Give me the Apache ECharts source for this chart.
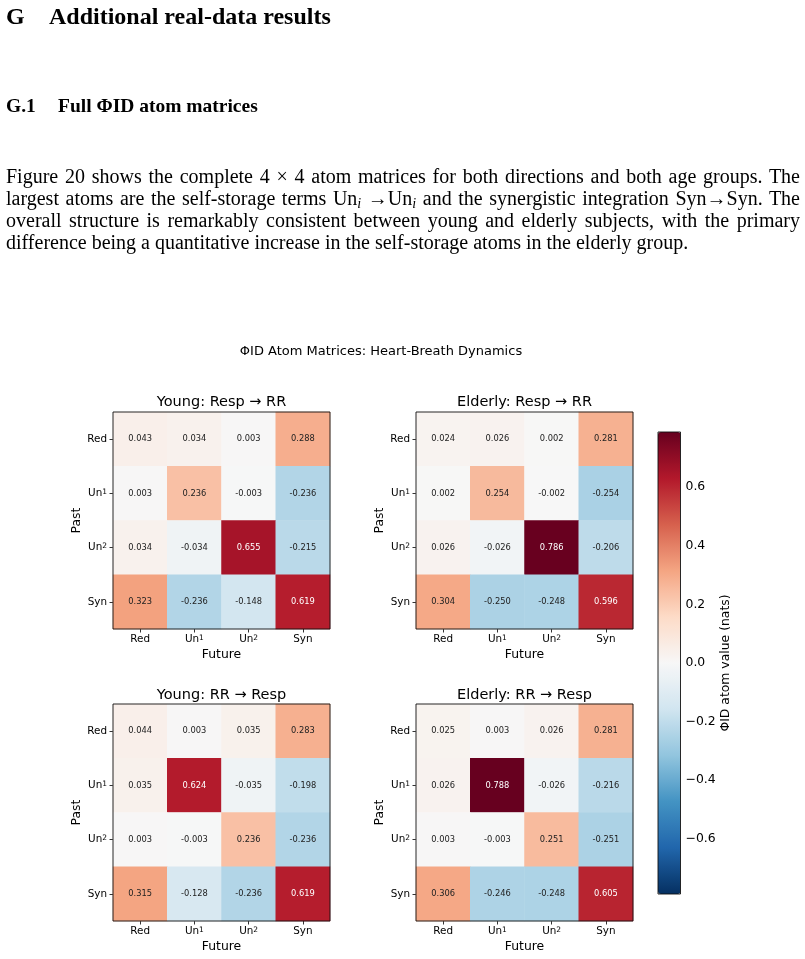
<!DOCTYPE html>
<html>
<head>
<meta charset="utf-8">
<script src="https://cdn.jsdelivr.net/npm/echarts@6.0.0/dist/echarts.min.js"></script>
<style>
  html, body { margin:0; padding:0; background:#fff; }
  #wrap { position:relative; width:805px; height:959px; overflow:hidden; }
  #chart { position:absolute; left:0; top:0; width:805px; height:959px; }
  .tx { position:absolute; font-family:"Liberation Serif","Times New Roman",serif; color:#000; white-space:nowrap; }
  .h1 { font-size:24px; line-height:24px; font-weight:bold; }
  .h2 { font-size:19.5px; line-height:20px; font-weight:bold; }
  .p { font-size:20px; line-height:22px; left:6px; width:794px; white-space:normal; text-align:justify; text-align-last:justify; }
  .p.last { text-align-last:left; }
  sub { font-size:14px; line-height:0; vertical-align:-3px; font-style:italic; }
</style>
</head>
<body>
<div id="wrap">
  <div id="chart"></div>
  <div class="tx h1" style="left:6px;top:4px;">G</div>
  <div class="tx h1" style="left:49px;top:4px;">Additional real-data results</div>
  <div class="tx h2" style="left:6px;top:96px;">G.1</div>
  <div class="tx h2" style="left:58px;top:96px;">Full ΦID atom matrices</div>
  <div class="tx p" style="top:165px;">Figure 20 shows the complete 4 × 4 atom matrices for both directions and both age groups. The</div>
  <div class="tx p" style="top:187px;">largest atoms are the self-storage terms Un<sub>i</sub> →Un<sub>i</sub> and the synergistic integration Syn→Syn. The</div>
  <div class="tx p" style="top:209px;">overall structure is remarkably consistent between young and elderly subjects, with the primary</div>
  <div class="tx p last" style="top:231px;">difference being a quantitative increase in the self-storage atoms in the elderly group.</div>
</div>
<script>
// ---- data ----
const atoms = ['Red', 'Un\u00B9', 'Un\u00B2', 'Syn'];
const colorbarTicks = [-0.6, -0.4, -0.2, 0.0, 0.2, 0.4, 0.6];
const vLimit = 0.788;

const youngRespRR = [
  [0.043, 0.034, 0.003, 0.288],
  [0.003, 0.236, -0.003, -0.236],
  [0.034, -0.034, 0.655, -0.215],
  [0.323, -0.236, -0.148, 0.619]
];
const elderlyRespRR = [
  [0.024, 0.026, 0.002, 0.281],
  [0.002, 0.254, -0.002, -0.254],
  [0.026, -0.026, 0.786, -0.206],
  [0.304, -0.250, -0.248, 0.596]
];
const youngRRResp = [
  [0.044, 0.003, 0.035, 0.283],
  [0.035, 0.624, -0.035, -0.198],
  [0.003, -0.003, 0.236, -0.236],
  [0.315, -0.128, -0.236, 0.619]
];
const elderlyRRResp = [
  [0.025, 0.003, 0.026, 0.281],
  [0.026, 0.788, -0.026, -0.216],
  [0.003, -0.003, 0.251, -0.251],
  [0.306, -0.246, -0.248, 0.605]
];
const panelTitles = ['Young: Resp \u2192 RR', 'Elderly: Resp \u2192 RR', 'Young: RR \u2192 Resp', 'Elderly: RR \u2192 Resp'];
const mainTitle = '\u03A6ID Atom Matrices: Heart-Breath Dynamics';
const colorbarLabel = '\u03A6ID atom value (nats)';

// RdBu_r colormap (matplotlib)
const rdbu_r = ['#053061','#2166ac','#4393c3','#92c5de','#d1e5f0','#f7f7f7','#fddbc7','#f4a582','#d6604d','#b2182b','#67001f'];

const FONT = 'DejaVu Sans';
const matrices = [youngRespRR, elderlyRespRR, youngRRResp, elderlyRRResp];
const gridPos = [
  {left:113, top:412, titleTop:395},
  {left:416, top:412, titleTop:395},
  {left:113, top:704, titleTop:688},
  {left:416, top:704, titleTop:688}
];
const SIZE = 217;

const supFmt = v => v.replace('\u00B9', '{s|1}').replace('\u00B2', '{s|2}');
const tickRich = {s: {fontFamily: FONT, fontSize: 7.5, color: '#000', verticalAlign: 'top', padding: [0, 0, 3, 0]}};

const grids = [], xAxes = [], yAxes = [], series = [], titles = [];
titles.push({text: mainTitle, left: 381, top: 345, textAlign: 'center', padding: 0,
  textStyle: {fontFamily: FONT, fontSize: 13, fontWeight: 'normal', color: '#000'}});

matrices.forEach((m, k) => {
  const g = gridPos[k];
  grids.push({left: g.left, top: g.top, width: SIZE, height: SIZE, show: true,
    backgroundColor: 'transparent', borderColor: '#111', borderWidth: 0.9, z: 10});
  xAxes.push({type: 'category', gridIndex: k, data: atoms, position: 'bottom',
    name: 'Future', nameLocation: 'middle', nameGap: 20,
    nameTextStyle: {fontFamily: FONT, fontSize: 12.4, color: '#000'},
    axisLine: {show: false},
    axisTick: {show: true, alignWithLabel: true, interval: 0, length: 3.5, lineStyle: {color: '#000', width: 0.8}},
    axisLabel: {interval: 0, hideOverlap: false, fontFamily: FONT, fontSize: 10.4, color: '#000', margin: 5, formatter: supFmt, rich: tickRich},
    splitLine: {show: false}});
  yAxes.push({type: 'category', gridIndex: k, data: atoms, inverse: true,
    name: 'Past', nameLocation: 'middle', nameGap: 30,
    nameTextStyle: {fontFamily: FONT, fontSize: 12.4, color: '#000'},
    axisLine: {show: false},
    axisTick: {show: true, alignWithLabel: true, interval: 0, length: 3.5, lineStyle: {color: '#000', width: 0.8}},
    axisLabel: {interval: 0, hideOverlap: false, fontFamily: FONT, fontSize: 10.4, color: '#000', margin: 6, formatter: supFmt, rich: tickRich},
    splitLine: {show: false}});
  const data = [];
  m.forEach((row, r) => row.forEach((v, c) => {
    data.push({value: [c, r, v], label: {color: Math.abs(v) > 0.5 ? '#fff' : '#222'}});
  }));
  series.push({type: 'heatmap', xAxisIndex: k, yAxisIndex: k, data: data,
    itemStyle: {borderWidth: 0},
    label: {show: true, fontFamily: FONT, fontSize: 8.3, formatter: p => p.value[2].toFixed(3)},
    emphasis: {disabled: true}});
  titles.push({text: panelTitles[k], left: g.left + SIZE / 2, top: g.titleTop, textAlign: 'center', padding: 0,
    textStyle: {fontFamily: FONT, fontSize: 14.5, fontWeight: 'normal', color: '#000'}});
});

// colorbar axis
grids.push({left: 658, top: 432, width: 22.5, height: 462, show: true,
  backgroundColor: 'transparent', borderColor: '#111', borderWidth: 0.9, z: 10});
xAxes.push({type: 'value', gridIndex: 4, show: false, min: 0, max: 1});
yAxes.push({type: 'value', gridIndex: 4, position: 'right', min: -vLimit, max: vLimit,
  name: colorbarLabel, nameLocation: 'middle', nameGap: 36, nameRotate: 90,
  nameTextStyle: {fontFamily: FONT, fontSize: 12.4, color: '#000'},
  axisLine: {show: false},
  axisTick: {show: true, length: 3.5, customValues: colorbarTicks, lineStyle: {color: '#000', width: 0.8}},
  axisLabel: {fontFamily: FONT, fontSize: 12.4, color: '#000', margin: 5, customValues: colorbarTicks,
    formatter: v => (v < 0 ? '\u2212' : '') + Math.abs(v).toFixed(1)},
  splitLine: {show: false}});

const chart = echarts.init(document.getElementById('chart'), null, {renderer: 'canvas'});
chart.setOption({
  backgroundColor: 'transparent',
  animation: false,
  title: titles,
  grid: grids,
  xAxis: xAxes,
  yAxis: yAxes,
  visualMap: {
    type: 'continuous', min: -vLimit, max: vLimit, dimension: 2,
    seriesIndex: [0, 1, 2, 3], calculable: false, show: true,
    orient: 'vertical', left: 658, top: 432, itemWidth: 22.5, itemHeight: 462, padding: 0,
    inRange: {color: rdbu_r}, hoverLink: false
  },
  series: series
});
</script>
</body>
</html>
